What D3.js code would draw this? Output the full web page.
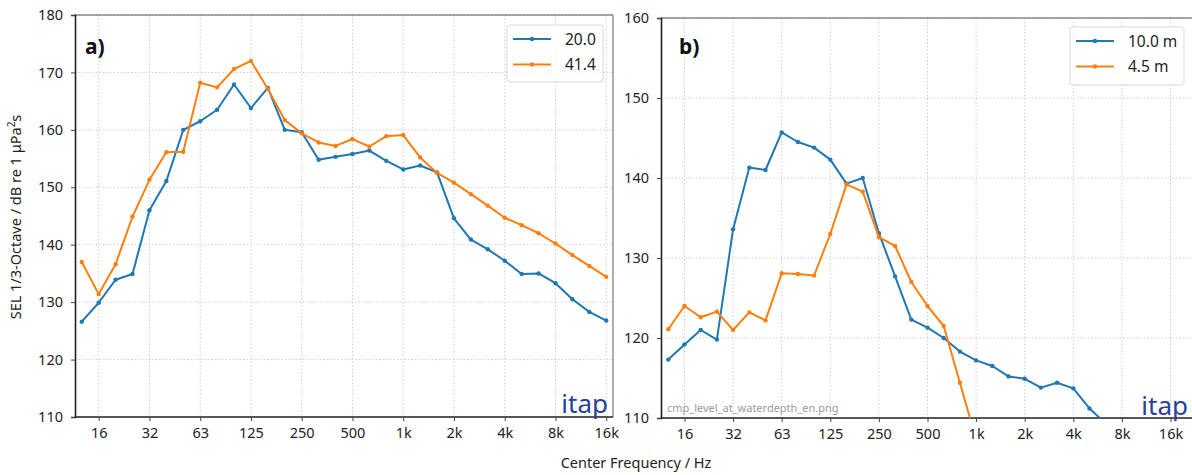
<!DOCTYPE html>
<html><head><meta charset="utf-8">
<script src="https://cdn.jsdelivr.net/npm/d3@7"></script>
<style>
body{margin:0;background:#fff;}
svg{display:block;font-family:"Noto Sans",sans-serif;}
</style></head>
<body><svg id="c" width="1192" height="475"></svg>
<script>
const bands = ["12.5","16","20","25","31.5","40","50","63","80","100","125","160","200","250","315","400","500","630","800","1k","1.25k","1.6k","2k","2.5k","3.15k","4k","5k","6.3k","8k","10k","12.5k","16k"];
const tickBands = ["16","31.5","63","125","250","500","1k","2k","4k","8k","16k"];
const tickLabels = ["16","32","63","125","250","500","1k","2k","4k","8k","16k"];

const aLabels = ["20.0","41.4"];
const a20 = [126.6,129.9,133.9,134.9,146.0,151.1,160.0,161.5,163.5,167.9,163.8,167.3,160.0,159.6,154.8,155.3,155.8,156.4,154.6,153.1,153.8,152.6,144.6,140.9,139.2,137.2,134.9,135.0,133.3,130.5,128.3,126.8];
const a41 = [137.0,131.4,136.6,144.9,151.3,156.1,156.2,168.2,167.4,170.6,172.0,167.1,161.7,159.4,157.8,157.2,158.4,157.1,158.9,159.1,155.2,152.5,150.8,148.8,146.8,144.7,143.4,142.0,140.2,138.2,136.3,134.4];
const aTicks = [110,120,130,140,150,160,170,180];

const bLabels = ["10.0 m","4.5 m"];
const b10 = [117.3,119.2,121.0,119.8,133.6,141.3,141.0,145.7,144.5,143.8,142.3,139.3,140.0,133.1,127.7,122.3,121.3,120.0,118.3,117.2,116.5,115.2,114.9,113.8,114.4,113.7,111.2,109.3];
const b45 = [121.1,124.0,122.6,123.3,121.0,123.2,122.2,128.1,128.0,127.8,133.0,139.2,138.3,132.6,131.5,127.0,124.0,121.5,114.4,107.3];
const bTicks = [110,120,130,140,150,160];

const colors = ["#1f77b4","#ff7f0e"];
const svg = d3.select("#c");

function panel(cfg){
  const g = svg.append("g");
  const x = d3.scalePoint().domain(bands).range(cfg.xr).padding(cfg.pad);
  const y = d3.scaleLinear().domain(cfg.yd).range([cfg.bottom, cfg.top]);
  const L = cfg.xr[0], R = cfg.frameR, T = cfg.top, B = cfg.bottom;
  const clipId = "clip"+cfg.id;
  g.append("clipPath").attr("id",clipId).append("rect").attr("x",L).attr("y",T).attr("width",R-L).attr("height",B-T);
  const grid = g.append("g").attr("stroke","#c8c8c8").attr("stroke-width",0.9).attr("stroke-dasharray","1.5,2");
  tickBands.forEach(b=>grid.append("line").attr("x1",x(b)).attr("x2",x(b)).attr("y1",T).attr("y2",B));
  cfg.yt.forEach(v=>grid.append("line").attr("x1",L).attr("x2",R).attr("y1",y(v)).attr("y2",y(v)));
  g.append("line").attr("x1",L).attr("x2",R).attr("y1",T).attr("y2",T).attr("stroke","#555").attr("stroke-width",1.2);
  g.append("line").attr("x1",R).attr("x2",R).attr("y1",T).attr("y2",B).attr("stroke","#777").attr("stroke-width",1.2);
  const ya = g.append("g").attr("transform",`translate(${L},0)`).call(d3.axisLeft(y).tickValues(cfg.yt).tickSize(4).tickPadding(8).tickFormat(d3.format("d")));
  const xa = g.append("g").attr("transform",`translate(0,${B})`).call(d3.axisBottom(x).tickValues(tickBands).tickSize(4).tickPadding(7).tickFormat((d,i)=>tickLabels[i]));
  [ya,xa].forEach(a=>{
    a.select(".domain").attr("stroke","#222").attr("stroke-width",1.6);
    a.selectAll(".tick line").attr("stroke","#444");
    a.selectAll(".tick text").attr("font-size",14.5).attr("fill","#222").attr("font-family","Noto Sans");
  });
  xa.select(".domain").attr("d",`M${L},0H${R}`);
  const data = g.append("g").attr("clip-path",`url(#${clipId})`);
  cfg.series.forEach((s,k)=>{
    const pts = s.map((v,i)=>[x(bands[i]),y(v)]);
    data.append("path").attr("d",d3.line()(pts)).attr("fill","none").attr("stroke",colors[k]).attr("stroke-width",2).attr("stroke-linejoin","round");
    data.selectAll(null).data(pts).enter().append("circle").attr("cx",d=>d[0]).attr("cy",d=>d[1]).attr("r",2.2).attr("fill",colors[k]);
  });
  g.append("text").attr("x",cfg.lab[0]).attr("y",cfg.lab[1]).attr("font-size",21).attr("font-weight","bold").attr("fill","#111").text(cfg.labText);
  g.append("text").attr("x",cfg.itap[0]).attr("y",cfg.itap[1]).attr("font-size",26).attr("fill","#2a3f96").attr("text-anchor","end").text("itap");
  const lg = g.append("g").attr("transform",`translate(${cfg.leg[0]},${cfg.leg[1]})`);
  lg.append("rect").attr("width",cfg.leg[2]).attr("height",cfg.leg[3]).attr("rx",3).attr("fill","rgba(255,255,255,0.85)").attr("stroke","#d8d8d8").attr("stroke-width",1);
  cfg.labels.forEach((t,k)=>{
    const yy = 14 + k*25.5;
    lg.append("line").attr("x1",6).attr("x2",44).attr("y1",yy).attr("y2",yy).attr("stroke",colors[k]).attr("stroke-width",2);
    lg.append("circle").attr("cx",25).attr("cy",yy).attr("r",2.2).attr("fill",colors[k]);
    lg.append("text").attr("x",58).attr("y",yy+5.5).attr("font-size",15.5).attr("fill","#222").text(t);
  });
  return g;
}

panel({id:"a", xr:[75,613], frameR:613, pad:0.4, yd:[110,180], top:15, bottom:417, yt:aTicks,
  series:[a20,a41], labels:aLabels, lab:[85,54], labText:"a)", itap:[608,413], leg:[507,25,96,57]});

const pb = panel({id:"b", xr:[661,1177.8], frameR:1196, pad:0.45, yd:[110,160], top:18, bottom:418, yt:bTicks,
  series:[b10,b45], labels:bLabels, lab:[679,54], labText:"b)", itap:[1188,415], leg:[1070,27,114,58]});

pb.append("text").attr("x",667).attr("y",412).attr("font-size",11).attr("fill","#9a9a9a").text("cmp_level_at_waterdepth_en.png");

svg.append("text").attr("transform","translate(21,217) rotate(-90)").attr("text-anchor","middle").attr("font-size",14.5).attr("fill","#222")
  .html('SEL 1/3-Octave / dB re 1 μPa<tspan dy="-6" font-size="10">2</tspan><tspan dy="6">s</tspan>');
svg.append("text").attr("x",636).attr("y",468).attr("text-anchor","middle").attr("font-size",14.5).attr("fill","#222").text("Center Frequency / Hz");
</script></body></html>
